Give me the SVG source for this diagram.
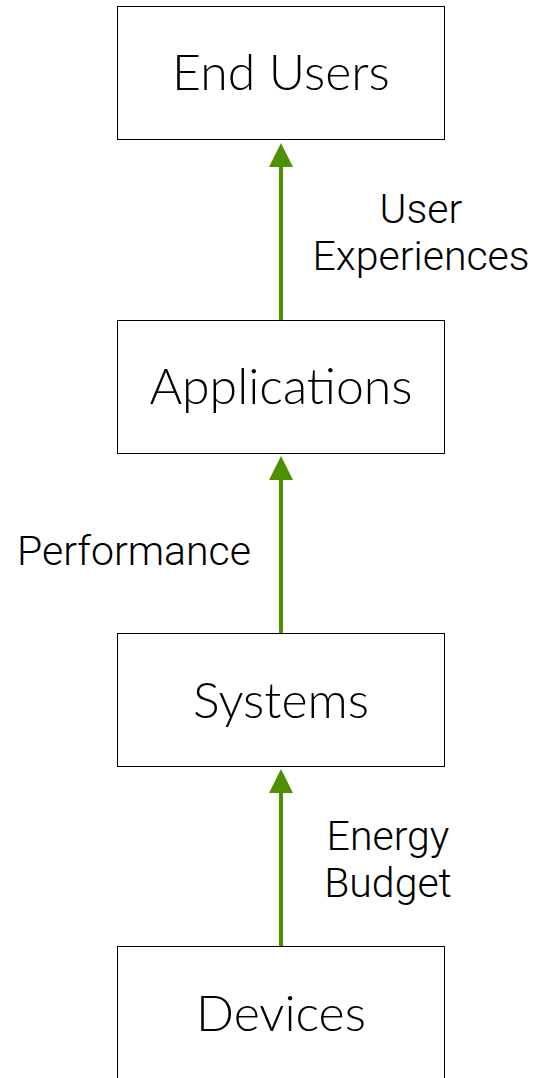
<svg xmlns="http://www.w3.org/2000/svg" width="537" height="1078" viewBox="0 0 537 1078">
<style>
.box{fill:#fff;stroke:#000;stroke-width:1}
.nt{font-family:Lato,"Open Sans",sans-serif;font-weight:300;font-size:50px;fill:#000;text-anchor:middle}
.lb{font-family:Roboto,"Liberation Sans",Arial,sans-serif;font-weight:300;font-size:41px;fill:#000;text-anchor:middle}
.ar{stroke:#4e9000;stroke-width:4;fill:none}
.ah{fill:#4e9000}
</style>
<rect width="537" height="1078" fill="#fff"/>
<g id="connectors">
<path class="ar" d="M281,320 V166"/><polygon class="ah" points="281,143 269,167 293,167"/>
<path class="ar" d="M281,633 V479"/><polygon class="ah" points="281,456 269,480 293,480"/>
<path class="ar" d="M281,946 V792"/><polygon class="ah" points="281,769 269,793 293,793"/>
<text class="lb" x="421" y="223">User</text>
<text class="lb" x="421" y="270">Experiences</text>
<text class="lb" x="134" y="565">Performance</text>
<text class="lb" x="388" y="850">Energy</text>
<text class="lb" x="388" y="897">Budget</text>
</g>
<g id="end-users"><rect class="box" x="117.5" y="6.5" width="327" height="133"/><text class="nt" x="281" y="90">End Users</text></g>
<g id="applications"><rect class="box" x="117.5" y="320.5" width="327" height="133"/><text class="nt" x="281" y="404">Applications</text></g>
<g id="systems"><rect class="box" x="117.5" y="633.5" width="327" height="133"/><text class="nt" x="281" y="718">Systems</text></g>
<g id="devices"><rect class="box" x="117.5" y="946.5" width="327" height="133"/><text class="nt" x="281" y="1031">Devices</text></g>
</svg>
